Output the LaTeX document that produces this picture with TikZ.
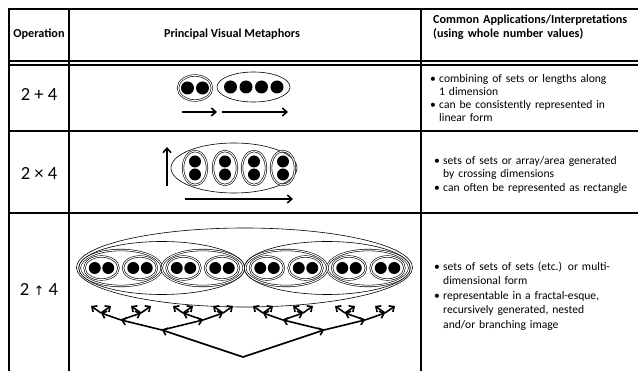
\documentclass[tikz,border=0pt]{standalone}
\usepackage{fontspec}
\setmainfont{Carlito}
\newfontfamily\arrowfont{DejaVu Sans}
\usetikzlibrary{arrows.meta}

% bullet with hanging indent for the right column
\newcommand{\appitem}[1]{\par\hangindent=9pt\hangafter=1\noindent\makebox[9pt][l]{\textbullet}#1\par}

\tikzset{
  rule/.style={line width=1.8pt},
  ring/.style={line width=0.6pt},
  twin/.style={ring, double, double distance=1pt},
  flow/.style={line width=1.6pt, -{Straight Barb[length=4.5pt,width=8pt]}},
  branch/.style={line width=1.6pt, -{Straight Barb[length=4pt,width=7.5pt]}},
  head/.style={font=\bfseries\fontsize{12.2}{14}\selectfont},
  op/.style={font=\fontsize{18.5}{21}\selectfont},
  apps/.style={text width=210pt, align=left, inner sep=0pt, anchor=base west},
}

\begin{document}
\begin{tikzpicture}[x=1pt,y=-1pt]
  \useasboundingbox (0,0) rectangle (638,371);

  % Table rules
  \draw[rule] (9,371) -- (9,9) -- (638,9);
  \draw[rule] (69,9) -- (69,371);
  \draw[rule] (421,9) -- (421,371);
  \draw[line width=1.4pt] (9,61) -- (638,61);
  \draw[line width=1.4pt] (9,65) -- (638,65);
  \draw[rule] (9,131) -- (638,131);
  \draw[rule] (9,213) -- (638,213);

  % Header row
  \node[head] (hop) at (39,34) {Operation};
  \node[head] (hvis) at (232,34) {Principal Visual Metaphors};
  \node[head, apps] (happ) at (433,24) {Common Applications/Interpretations\\(using whole number values)};

  % Operation column
  \node[op] (opadd) at (39,95) {2 + 4};
  \node[op] (opmul) at (39,174) {2 × 4};
  \node[op] (oppow) at (39,289) {2 {\arrowfont\fontsize{13}{15}\selectfont ↑} 4};

  % 2 + 4 : two sets joined along a line
  \draw[twin] (195,88) ellipse (17 and 12.5);
  \foreach \x in {187.5,202.5}
    \fill (\x,88) circle (6.5);
  \draw[ring] (253.5,87) ellipse (36.5 and 15);
  \foreach \x in {230.5,246,261.5,277}
    \fill (\x,87) circle (6.5);
  \draw[flow] (182,112) -- (217,112);
  \draw[flow] (222,112) -- (288,112);

  % 2 x 4 : four sets of two
  \draw[ring] (234,168) ellipse (63 and 25);
  \foreach \x in {195,225,254,283} {
    \draw[twin] (\x,168) ellipse (12 and 17);
    \fill (\x,161.5) circle (6);
    \fill (\x,174.5) circle (6);
  }
  \draw[flow] (167,186) -- (167,147);
  \draw[flow] (185,199) -- (293,199);

  % 2 ^ 4 : sets of sets of sets
  \draw[ring] (244.5,267.5) ellipse (168 and 39.5);
  \foreach \b in {161.75,327.25} {
    \draw[ring] (\b,268) ellipse (83 and 26.5);
    \foreach \m in {-41,41} {
      \draw[twin] (\b+\m,268) ellipse (41 and 18);
      \foreach \p in {-19.25,19.25} {
        \draw[twin] (\b+\m+\p,268) ellipse (17 and 11.5);
        \fill (\b+\m+\p-6.75,268) circle (6);
        \fill (\b+\m+\p+6.75,268) circle (6);
      }
    }
  }

  % branching tree underneath
  \foreach \a in {-1,1} {
    \draw[branch] (243,357) -- (243+81*\a,330);
    \foreach \b in {-1,1} {
      \draw[branch] (243+81*\a,330) -- (243+81*\a+41*\b,320);
      \foreach \c in {-1,1} {
        \draw[branch] (243+81*\a+41*\b,320) -- (243+81*\a+41*\b+20*\c,313);
        \foreach \d in {-1,1}
          \draw[branch] (243+81*\a+41*\b+20*\c,313) -- ++(10*\d,-7);
      }
    }
  }

  % Applications column
  \node[apps, font=\fontsize{11.6}{12.8}\selectfont] (appadd) at (430,70) {%
    \appitem{combining of sets or lengths along\newline 1 dimension}%
    \appitem{can be consistently represented in\newline linear form}};
  \node[apps, font=\fontsize{11.6}{13.5}\selectfont] (appmul) at (434,151) {%
    \appitem{sets of sets or array/area generated\newline by crossing dimensions}%
    \appitem{can often be represented as rectangle}};
  \node[apps, font=\fontsize{11.6}{14.5}\selectfont] (apppow) at (434,256) {%
    \appitem{sets of sets of sets (etc.) or multi-\newline dimensional form}%
    \appitem{representable in a fractal-esque,\newline recursively generated, nested\newline and/or branching image}};
\end{tikzpicture}
\end{document}
